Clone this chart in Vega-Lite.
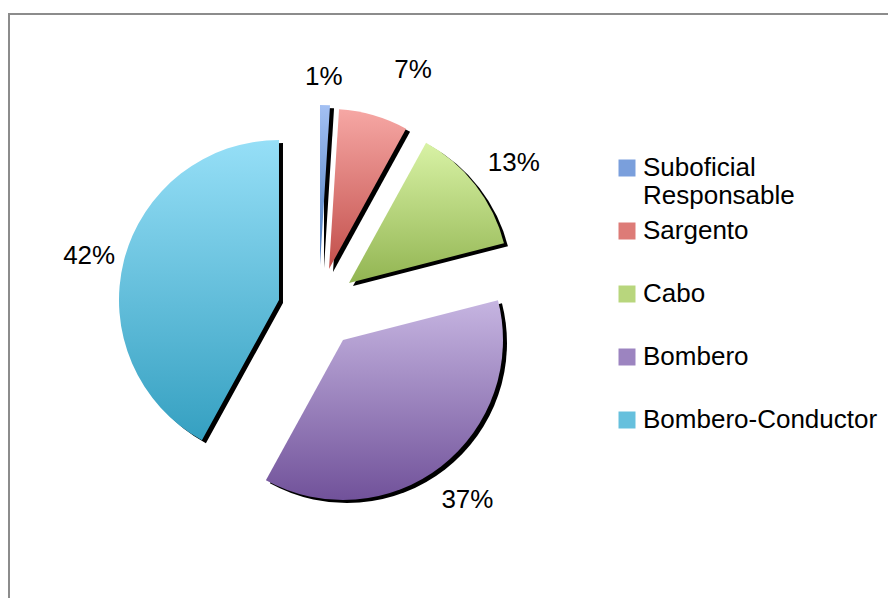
{
  "$schema": "https://vega.github.io/schema/vega-lite/v6.json",
  "width": 899,
  "height": 604,
  "autosize": {"type": "none"},
  "padding": {"left": 9, "top": 14, "right": -20, "bottom": -20},
  "background": "white",
  "config": {
    "view": {"stroke": "#8c8c8c", "strokeWidth": 2},
    "font": "Liberation Sans",
    "legend": {
      "orient": "none",
      "legendX": 605,
      "legendY": 141,
      "padding": 0,
      "offset": 0,
      "title": null,
      "symbolType": "square",
      "symbolSize": 289,
      "symbolStrokeWidth": 0,
      "symbolOpacity": 1,
      "labelFont": "Liberation Sans",
      "labelFontSize": 26,
      "labelColor": "black",
      "labelOffset": 3,
      "labelLimit": 400,
      "rowPadding": 9,
      "gridAlign": "all"
    }
  },
  "data": {
    "values": [
      {"cat": "Suboficial Responsable", "pct": 0.01, "ord": 1},
      {"cat": "Sargento", "pct": 0.07, "ord": 2},
      {"cat": "Cabo", "pct": 0.13, "ord": 3},
      {"cat": "Bombero", "pct": 0.37, "ord": 4},
      {"cat": "Bombero-Conductor", "pct": 0.42, "ord": 5}
    ]
  },
  "transform": [
    {"stack": "pct", "groupby": [], "sort": [{"field": "ord", "order": "ascending"}], "as": ["p0", "p1"]}
  ],
  "encoding": {
    "x": {"datum": 0.3348, "type": "quantitative", "stack": null, "scale": {"domain": [0, 1], "nice": false, "zero": false}, "axis": null},
    "y": {"datum": 0.4735, "type": "quantitative", "stack": null, "scale": {"domain": [0, 1], "nice": false, "zero": false, "reverse": true}, "axis": null},
    "theta": {"field": "p0", "type": "quantitative", "scale": {"domain": [0, 1]}},
    "theta2": {"field": "p1"}
  },
  "layer": [
    {"mark": {"type": "arc", "radius": 0},
     "encoding": {"color": {"field": "cat", "type": "nominal",
       "scale": {"domain": ["Suboficial Responsable", "Sargento", "Cabo", "Bombero", "Bombero-Conductor"],
                 "range": ["#7a9fdc", "#dd7b77", "#b8d67d", "#9c84c0", "#66c0dd"]},
       "legend": {"labelExpr": "datum.label == 'Suboficial Responsable' ? ['Suboficial', 'Responsable'] : datum.label"}}}},

    {"transform": [{"filter": "datum.cat == 'Suboficial Responsable'"}], "mark": {"type": "arc", "radius": 160, "color": "black", "xOffset": 14, "yOffset": -32}},
    {"transform": [{"filter": "datum.cat == 'Sargento'"}], "mark": {"type": "arc", "radius": 160, "color": "black", "xOffset": 23, "yOffset": -28}},
    {"transform": [{"filter": "datum.cat == 'Cabo'"}], "mark": {"type": "arc", "radius": 160, "color": "black", "xOffset": 43, "yOffset": -14}},
    {"transform": [{"filter": "datum.cat == 'Bombero'"}], "mark": {"type": "arc", "radius": 160, "color": "black", "xOffset": 37, "yOffset": 43}},
    {"transform": [{"filter": "datum.cat == 'Bombero-Conductor'"}], "mark": {"type": "arc", "radius": 160, "color": "black", "xOffset": -27, "yOffset": 3}},

    {"transform": [{"filter": "datum.cat == 'Suboficial Responsable'"}],
     "mark": {"type": "arc", "radius": 160, "xOffset": 10, "yOffset": -35,
       "color": {"gradient": "linear", "x1": 0, "y1": 0, "x2": 0, "y2": 1, "stops": [{"offset": 0, "color": "#a3c0f3"}, {"offset": 1, "color": "#4a7bbd"}]}}},
    {"transform": [{"filter": "datum.cat == 'Sargento'"}],
     "mark": {"type": "arc", "radius": 160, "xOffset": 19, "yOffset": -31,
       "color": {"gradient": "linear", "x1": 0, "y1": 0, "x2": 0, "y2": 1, "stops": [{"offset": 0, "color": "#f6a7a4"}, {"offset": 1, "color": "#c24f4b"}]}}},
    {"transform": [{"filter": "datum.cat == 'Cabo'"}],
     "mark": {"type": "arc", "radius": 160, "xOffset": 39, "yOffset": -17,
       "color": {"gradient": "linear", "x1": 0, "y1": 0, "x2": 0, "y2": 1, "stops": [{"offset": 0, "color": "#d8f2a5"}, {"offset": 1, "color": "#92b552"}]}}},
    {"transform": [{"filter": "datum.cat == 'Bombero'"}],
     "mark": {"type": "arc", "radius": 160, "xOffset": 33, "yOffset": 40,
       "color": {"gradient": "linear", "x1": 0, "y1": 0, "x2": 0, "y2": 1, "stops": [{"offset": 0, "color": "#c6b5e1"}, {"offset": 1, "color": "#71529a"}]}}},
    {"transform": [{"filter": "datum.cat == 'Bombero-Conductor'"}],
     "mark": {"type": "arc", "radius": 160, "xOffset": -31, "yOffset": 0,
       "color": {"gradient": "linear", "x1": 0, "y1": 0, "x2": 0, "y2": 1, "stops": [{"offset": 0, "color": "#96dff7"}, {"offset": 1, "color": "#35a0c1"}]}}},

    {"transform": [{"fold": ["p0", "p1"], "as": ["k", "v"]}, {"aggregate": [{"op": "mean", "field": "v", "as": "mid"}], "groupby": ["cat", "pct"]}, {"filter": "datum.cat == 'Suboficial Responsable'"}],
     "mark": {"type": "text", "radius": 188, "fontSize": 26, "font": "Liberation Sans", "color": "black", "xOffset": 8, "yOffset": -35},
     "encoding": {"theta": {"field": "mid", "type": "quantitative", "scale": {"domain": [0, 1]}}, "theta2": null, "text": {"field": "pct", "type": "quantitative", "format": ".0%"}}},
    {"transform": [{"fold": ["p0", "p1"], "as": ["k", "v"]}, {"aggregate": [{"op": "mean", "field": "v", "as": "mid"}], "groupby": ["cat", "pct"]}, {"filter": "datum.cat == 'Sargento'"}],
     "mark": {"type": "text", "radius": 216, "thetaOffset": 0.117, "fontSize": 26, "font": "Liberation Sans", "color": "black", "xOffset": 19, "yOffset": -31},
     "encoding": {"theta": {"field": "mid", "type": "quantitative", "scale": {"domain": [0, 1]}}, "theta2": null, "text": {"field": "pct", "type": "quantitative", "format": ".0%"}}},
    {"transform": [{"fold": ["p0", "p1"], "as": ["k", "v"]}, {"aggregate": [{"op": "mean", "field": "v", "as": "mid"}], "groupby": ["cat", "pct"]}, {"filter": "datum.cat == 'Cabo'"}],
     "mark": {"type": "text", "radius": 204, "thetaOffset": 0.03, "fontSize": 26, "font": "Liberation Sans", "color": "black", "xOffset": 39, "yOffset": -17},
     "encoding": {"theta": {"field": "mid", "type": "quantitative", "scale": {"domain": [0, 1]}}, "theta2": null, "text": {"field": "pct", "type": "quantitative", "format": ".0%"}}},
    {"transform": [{"fold": ["p0", "p1"], "as": ["k", "v"]}, {"aggregate": [{"op": "mean", "field": "v", "as": "mid"}], "groupby": ["cat", "pct"]}, {"filter": "datum.cat == 'Bombero'"}],
     "mark": {"type": "text", "radius": 203, "fontSize": 26, "font": "Liberation Sans", "color": "black", "xOffset": 33, "yOffset": 40},
     "encoding": {"theta": {"field": "mid", "type": "quantitative", "scale": {"domain": [0, 1]}}, "theta2": null, "text": {"field": "pct", "type": "quantitative", "format": ".0%"}}},
    {"transform": [{"fold": ["p0", "p1"], "as": ["k", "v"]}, {"aggregate": [{"op": "mean", "field": "v", "as": "mid"}], "groupby": ["cat", "pct"]}, {"filter": "datum.cat == 'Bombero-Conductor'"}],
     "mark": {"type": "text", "radius": 196, "fontSize": 26, "font": "Liberation Sans", "color": "black", "xOffset": -31, "yOffset": 5},
     "encoding": {"theta": {"field": "mid", "type": "quantitative", "scale": {"domain": [0, 1]}}, "theta2": null, "text": {"field": "pct", "type": "quantitative", "format": ".0%"}}}
  ]
}
